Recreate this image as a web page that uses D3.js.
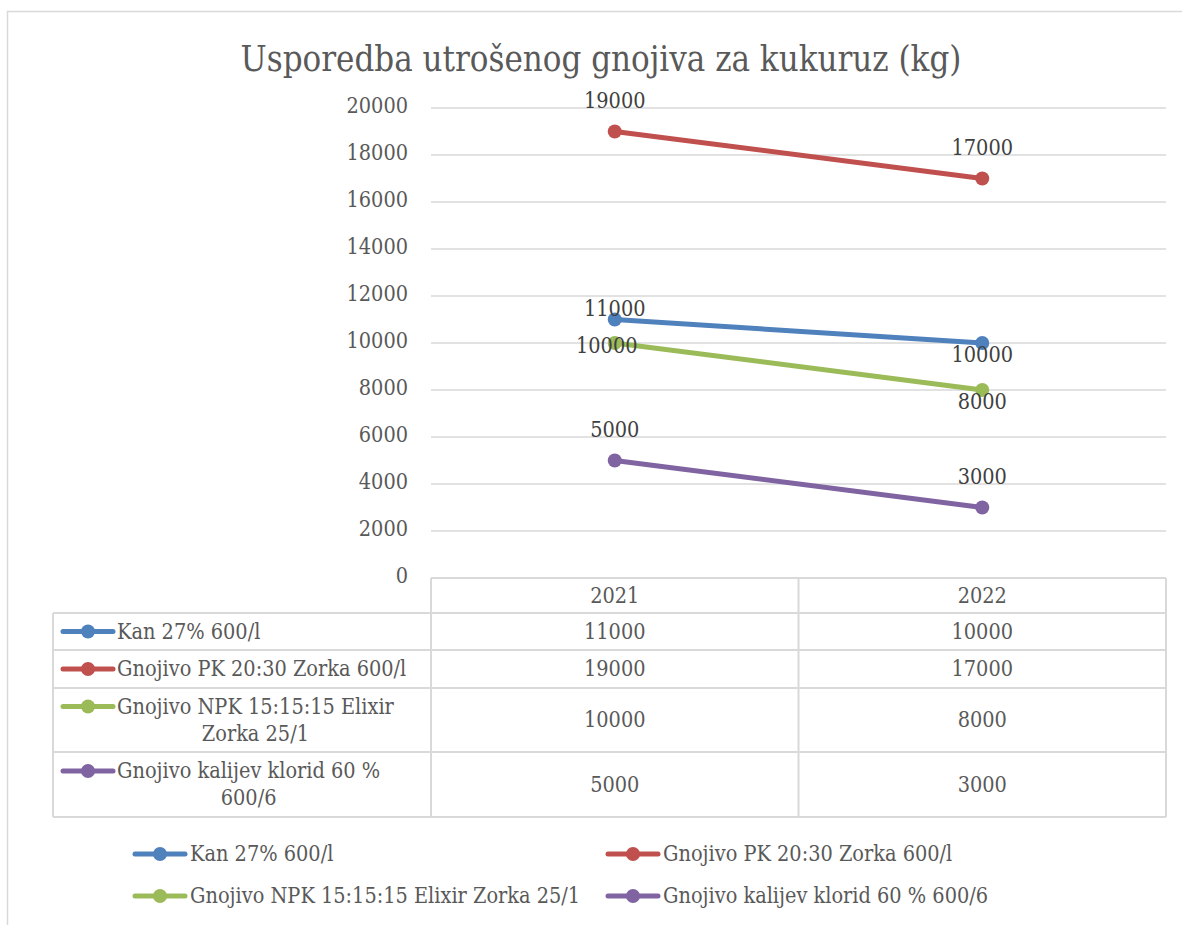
<!DOCTYPE html>
<html>
<head>
<meta charset="utf-8">
<script src="https://cdn.jsdelivr.net/npm/d3@7"></script>
<style>
  body { margin: 0; background: #fff; }
  svg { display: block; }
</style>
</head>
<body>
<svg id="chart"></svg>
<script>
const categories = ['2021', '2022'];
const seriesNames = [
  'Kan 27% 600/l',
  'Gnojivo PK 20:30 Zorka 600/l',
  'Gnojivo NPK 15:15:15 Elixir Zorka 25/1',
  'Gnojivo kalijev klorid 60 % 600/6',
];
const kan = [11000, 10000];
const pk = [19000, 17000];
const npk = [10000, 8000];
const kcl = [5000, 3000];
const seriesColors = ['#4f81bd', '#c0504d', '#9bbb59', '#8064a2'];
// where Excel placed each data label (per series, per point)
const labelPlace = [
  ['near', 'below'],
  ['above', 'above'],
  ['center', 'below'],
  ['above', 'above'],
];

const series = [kan, pk, npk, kcl].map((values, i) => ({
  name: seriesNames[i],
  color: seriesColors[i],
  values,
}));

const width = 1182;
const height = 925;
const font = '"DejaVu Serif Condensed", "DejaVu Serif", serif';
const textColor = '#595959';
const gridColor = '#d9d9d9';
const fs = 21.5;

const svg = d3.select('#chart').attr('width', width).attr('height', height);
svg.style('font-family', font).style('font-stretch', 'condensed');

// Chart area border
svg
  .append('rect')
  .attr('x', 7.5)
  .attr('y', 11.5)
  .attr('width', 1300)
  .attr('height', 1100)
  .attr('fill', 'none')
  .attr('stroke', gridColor)
  .attr('stroke-width', 1.5);

// Title
svg
  .append('text')
  .attr('x', 601)
  .attr('y', 71)
  .attr('text-anchor', 'middle')
  .attr('fill', textColor)
  .attr('font-size', 34.5)
  .text('Usporedba utrošenog gnojiva za kukuruz (kg)');

const plot = { left: 431, right: 1166, top: 108, bottom: 578 };

// X
const xScale = d3
  .scaleBand()
  .domain(categories)
  .range([plot.left, plot.right]);
const xMid = (c) => xScale(c) + xScale.bandwidth() / 2;

// Y
const yScale = d3
  .scaleLinear()
  .domain([0, 20000])
  .range([plot.bottom, plot.top]);

const yAxis = svg
  .append('g')
  .attr('transform', `translate(${plot.left},0)`)
  .call(d3.axisLeft(yScale).ticks(10).tickSize(0).tickPadding(23).tickFormat(d3.format('d')));
yAxis.select('.domain').remove();
yAxis
  .selectAll('text')
  .attr('fill', textColor)
  .attr('font-size', fs)
  .attr('font-family', font)
  .attr('dy', '0.2em');

// Grid
svg
  .append('g')
  .attr('stroke', gridColor)
  .attr('stroke-width', 1.5)
  .selectAll('line')
  .data(yScale.ticks(10).filter((d) => d > 0))
  .join('line')
  .attr('x1', plot.left)
  .attr('x2', plot.right)
  .attr('y1', (d) => yScale(d))
  .attr('y2', (d) => yScale(d));

// Lines and markers
const line = d3
  .line()
  .x((d, i) => xMid(categories[i]))
  .y((d) => yScale(d));

series.forEach((s) => {
  svg
    .append('path')
    .datum(s.values)
    .attr('fill', 'none')
    .attr('stroke', s.color)
    .attr('stroke-width', 5)
    .attr('stroke-linecap', 'round')
    .attr('d', line);
  svg
    .append('g')
    .selectAll('circle')
    .data(s.values)
    .join('circle')
    .attr('cx', (d, i) => xMid(categories[i]))
    .attr('cy', (d) => yScale(d))
    .attr('r', 7)
    .attr('fill', s.color);
});

// Data labels
const labelDy = { above: -24, near: -4, below: 19, center: 10 };
const labelDx = { above: 0, near: 0, below: 0, center: -8 };
series.forEach((s, si) => {
  svg
    .append('g')
    .selectAll('text')
    .data(s.values)
    .join('text')
    .attr('x', (d, i) => xMid(categories[i]) + labelDx[labelPlace[si][i]])
    .attr('y', (d, i) => yScale(d) + labelDy[labelPlace[si][i]])
    .attr('text-anchor', 'middle')
    .attr('fill', '#404040')
    .attr('font-size', fs)
    .text((d) => d);
});

// Data table
const tableLeft = 53;
const headerBottom = 613;
const rowHeights = [37, 38, 64, 65];
const rowTops = rowHeights.reduce((acc, h, i) => {
  acc.push(i === 0 ? headerBottom : acc[i - 1] + rowHeights[i - 1]);
  return acc;
}, []);
const tableBottom = rowTops[rowTops.length - 1] + rowHeights[rowHeights.length - 1];

const table = svg.append('g').attr('stroke', gridColor).attr('stroke-width', 2);
// horizontal rules
table
  .append('line')
  .attr('x1', plot.left)
  .attr('x2', plot.right)
  .attr('y1', plot.bottom)
  .attr('y2', plot.bottom);
table
  .selectAll('line.row')
  .data([...rowTops, tableBottom])
  .join('line')
  .attr('class', 'row')
  .attr('x1', tableLeft)
  .attr('x2', plot.right)
  .attr('y1', (d) => d)
  .attr('y2', (d) => d);
// vertical rules
table
  .selectAll('line.col')
  .data([plot.left, xScale(categories[1]), plot.right])
  .join('line')
  .attr('class', 'col')
  .attr('x1', (d) => d)
  .attr('x2', (d) => d)
  .attr('y1', plot.bottom)
  .attr('y2', tableBottom);
table
  .append('line')
  .attr('x1', tableLeft)
  .attr('x2', tableLeft)
  .attr('y1', headerBottom)
  .attr('y2', tableBottom);

// header (categories)
svg
  .append('g')
  .selectAll('text')
  .data(categories)
  .join('text')
  .attr('x', (d) => xMid(d))
  .attr('y', (plot.bottom + headerBottom) / 2 + 7)
  .attr('text-anchor', 'middle')
  .attr('fill', textColor)
  .attr('font-size', fs)
  .text((d) => d);

const legendKey = (g, color) => {
  g.append('line')
    .attr('x1', 0)
    .attr('x2', 50)
    .attr('stroke', color)
    .attr('stroke-width', 5)
    .attr('stroke-linecap', 'round');
  g.append('circle').attr('cx', 25).attr('r', 7).attr('fill', color);
};

const wrapWidth = 308;
series.forEach((s, i) => {
  const top = rowTops[i];
  const h = rowHeights[i];
  const row = svg.append('g');

  // values
  row
    .selectAll('text')
    .data(s.values)
    .join('text')
    .attr('x', (d, j) => xMid(categories[j]))
    .attr('y', top + h / 2 + 7)
    .attr('text-anchor', 'middle')
    .attr('fill', textColor)
    .attr('font-size', fs)
    .text((d) => d);

  // label with wrapping
  const label = svg
    .append('text')
    .attr('fill', textColor)
    .attr('font-size', fs);
  const words = s.name.split(' ');
  const lines = [];
  let current = [];
  const probe = label.append('tspan');
  words.forEach((w) => {
    probe.text([...current, w].join(' '));
    if (probe.node().getComputedTextLength() > wrapWidth && current.length) {
      lines.push(current.join(' '));
      current = [w];
    } else {
      current.push(w);
    }
  });
  lines.push(current.join(' '));
  probe.remove();

  const textX = tableLeft + 64;
  const lineH = 27;
  const firstY = top + h / 2 + 7 - ((lines.length - 1) * lineH) / 2;
  if (lines.length === 1) {
    label.attr('x', textX).attr('y', firstY).text(lines[0]);
  } else {
    const tmp = label.append('tspan').text(lines[0]);
    const w0 = tmp.node().getComputedTextLength();
    tmp.remove();
    label
      .attr('text-anchor', 'middle')
      .selectAll('tspan')
      .data(lines)
      .join('tspan')
      .attr('x', textX + w0 / 2)
      .attr('y', (d, j) => firstY + j * lineH)
      .text((d) => d);
  }

  svg
    .append('g')
    .attr('transform', `translate(${tableLeft + 10},${firstY - 7})`)
    .call(legendKey, s.color);
});

// Bottom legend
const legendPos = [
  [135, 854],
  [608, 854],
  [135, 896],
  [608, 896],
];
const legend = svg
  .append('g')
  .selectAll('g')
  .data(series)
  .join('g')
  .attr('transform', (d, i) => `translate(${legendPos[i][0]},${legendPos[i][1]})`);
legend.each(function (d) {
  d3.select(this).call(legendKey, d.color);
});
legend
  .append('text')
  .attr('x', 55)
  .attr('y', 7)
  .attr('fill', textColor)
  .attr('font-size', fs)
  .text((d) => d.name);
</script>
</body>
</html>
